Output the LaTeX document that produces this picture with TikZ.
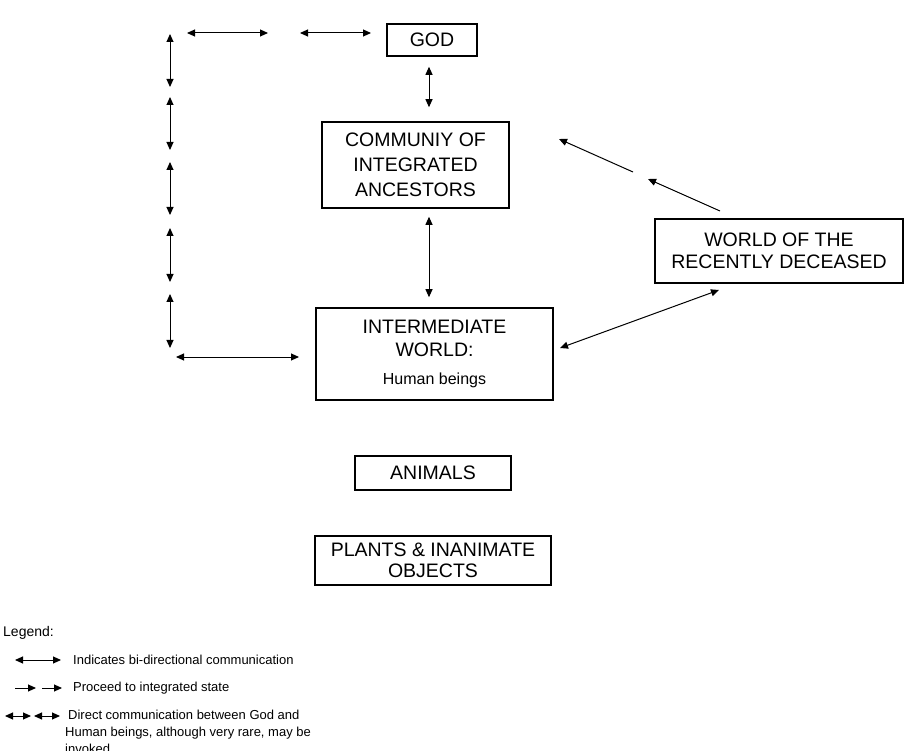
\documentclass[tikz,border=0pt]{standalone}
\usepackage{fontspec}
\setmainfont{Liberation Sans}
\usetikzlibrary{arrows.meta}
\tikzset{
  box/.style={draw, line width=1.6pt, inner sep=0pt, align=center, font=\fontsize{19.5}{24}\selectfont},
  arr/.style={line width=1pt, {Triangle[length=8pt,width=7pt]}-{Triangle[length=8pt,width=7pt]}},
  oarr/.style={line width=1pt, -{Triangle[length=8pt,width=7pt]}},
  leg/.style={anchor=west, inner sep=0pt, font=\fontsize{13}{15}\selectfont},
}
\begin{document}
\begin{tikzpicture}[x=1pt,y=-1pt]
\useasboundingbox (0,0) rectangle (905,751);
% boxes
\node[box, minimum width=90pt, minimum height=32pt] (god) at (432,40) {GOD};
\node[box, minimum width=187pt, minimum height=86pt, font=\fontsize{19.5}{25}\selectfont] (comm) at (415.5,165) {COMMUNIY OF\\INTEGRATED\\ANCESTORS};
\node[box, minimum width=237pt, minimum height=92pt, font=\fontsize{19.5}{23}\selectfont] (inter) at (434.5,354) {INTERMEDIATE\\WORLD:\\[5pt]{\fontsize{16}{18}\selectfont Human beings}};
\node[box, minimum width=248pt, minimum height=64pt, font=\fontsize{19.5}{22}\selectfont] (world) at (779,251) {WORLD OF THE\\RECENTLY DECEASED};
\node[box, minimum width=156pt, minimum height=34pt] (animals) at (433,473) {ANIMALS};
\node[box, minimum width=236pt, minimum height=49pt, font=\fontsize{19.5}{21}\selectfont] (plants) at (433,560.5) {PLANTS \& INANIMATE\\OBJECTS};
% vertical arrows between boxes
\draw[arr, shorten <=10pt, shorten >=14pt] (god.south -| 429,0) -- (comm.north -| 429,0);
\draw[arr, shorten <=8pt, shorten >=10pt] (comm.south -| 429,0) -- (inter.north -| 429,0);
% world <-> community / intermediate
\coordinate (w1) at (720,211);
\coordinate (w2) at (633,172);
\coordinate (c1) at (648,179);
\coordinate (c2) at (559,139);
\draw[oarr] (w1) -- (c1);
\draw[oarr] (w2) -- (c2);
\coordinate (i1) at (560,348);
\coordinate (i2) at (719,290);
\draw[arr] (i1) -- (i2);
% chain of arrows from God to Human beings
\coordinate (h1a) at (187,33); \coordinate (h1b) at (268,33);
\coordinate (h2a) at (300,33); \coordinate (h2b) at (371,33);
\draw[arr] (h1a) -- (h1b);
\draw[arr] (h2a) -- (h2b);
\foreach \a/\b [count=\i] in {34/87, 97/150, 162/215, 228/282, 294/348}{
  \coordinate (va\i) at (170,\a);
  \coordinate (vb\i) at (170,\b);
  \draw[arr] (va\i) -- (vb\i);
}
\coordinate (hb1) at (176,357); \coordinate (hb2) at (299,357);
\draw[arr] (hb1) -- (hb2);
% legend
\node[anchor=west, inner sep=0pt, font=\fontsize{14}{16}\selectfont] (legend) at (3,633) {Legend:};
\coordinate (l1a) at (15,660); \coordinate (l1b) at (61,660);
\draw[arr] (l1a) -- (l1b);
\node[leg] (t1) at (73,660) {Indicates bi-directional communication};
\coordinate (l2a) at (15,688); \coordinate (l2b) at (36,688);
\coordinate (l2c) at (42,688); \coordinate (l2d) at (62,688);
\draw[oarr] (l2a) -- (l2b);
\draw[oarr] (l2c) -- (l2d);
\node[leg] (t2) at (73,688) {Proceed to integrated state};
\coordinate (l3a) at (5,716); \coordinate (l3b) at (31,716);
\coordinate (l3c) at (34,716); \coordinate (l3d) at (60,716);
\draw[arr] (l3a) -- (l3b);
\draw[arr] (l3c) -- (l3d);
\node[leg] (t3) at (68,715) {Direct communication between God and};
\node[leg] (t4) at (65,733) {Human beings, although very rare, may be};
\node[leg] (t5) at (65,749) {invoked};
\end{tikzpicture}
\end{document}
